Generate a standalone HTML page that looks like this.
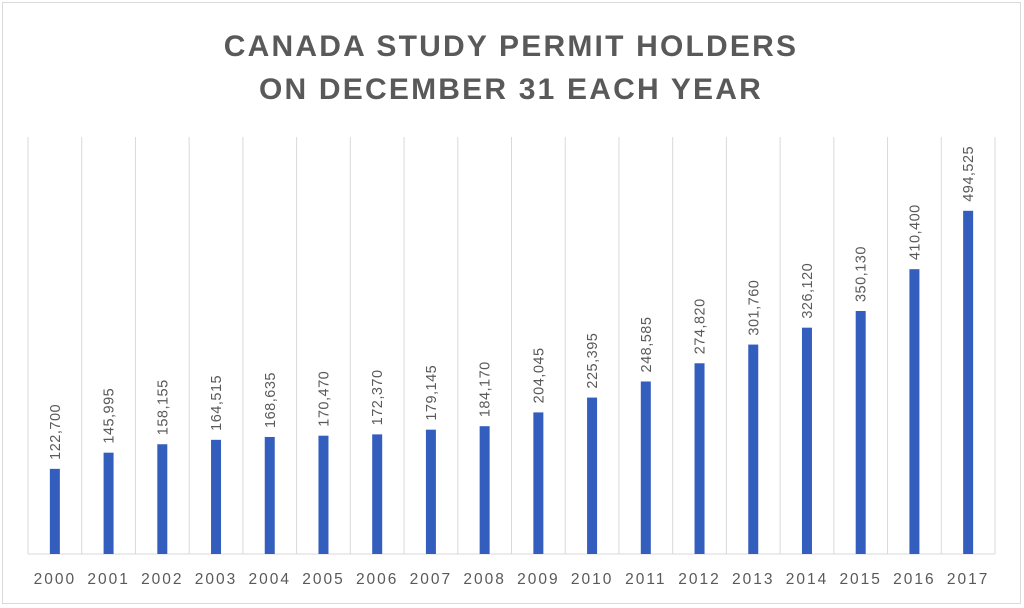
<!DOCTYPE html>
<html><head><meta charset="utf-8"><style>
body{margin:0;background:#fff}
svg{display:block}
text{font-family:"Liberation Sans",sans-serif;fill:#595959}
</style></head><body>
<svg width="1024" height="608" viewBox="0 0 1024 608">
<rect x="2.5" y="2.5" width="1018" height="601" fill="#fff" stroke="#d9d9d9"/>
<text x="511" y="56" font-size="30" font-weight="bold" text-anchor="middle" letter-spacing="2.2">CANADA STUDY PERMIT HOLDERS</text>
<text x="511" y="99" font-size="30" font-weight="bold" text-anchor="middle" letter-spacing="2.2">ON DECEMBER 31 EACH YEAR</text>
<g id="c"></g>
</svg>
<script>
var d=[122700,145995,158155,164515,168635,170470,172370,179145,184170,204045,225395,248585,274820,301760,326120,350130,410400,494525];
var g=document.getElementById('c'),h='',x0=28,w=(995-28)/18,base=554,k=0.000694;
for(var i=0;i<=18;i++){var x=x0+i*w;h+='<line x1="'+x+'" y1="137" x2="'+x+'" y2="'+base+'" stroke="#d9d9d9" stroke-width="1"/>';}
h+='<line x1="28" y1="'+base+'" x2="995" y2="'+base+'" stroke="#d9d9d9"/>';
d.forEach(function(v,i){var cx=x0+i*w+w/2,t=base-v*k;
h+='<rect x="'+(cx-5)+'" y="'+t+'" width="10" height="'+(base-t)+'" fill="#335EBD"/>';
h+='<text transform="translate('+(cx+5)+','+(t-9)+') rotate(-90)" font-size="14.5" letter-spacing="0.5">'+v.toLocaleString('en-US')+'</text>';
h+='<text x="'+cx+'" y="584" font-size="15.5" text-anchor="middle" letter-spacing="2">'+(2000+i)+'</text>';});
g.innerHTML=h;
</script>
</body></html>
